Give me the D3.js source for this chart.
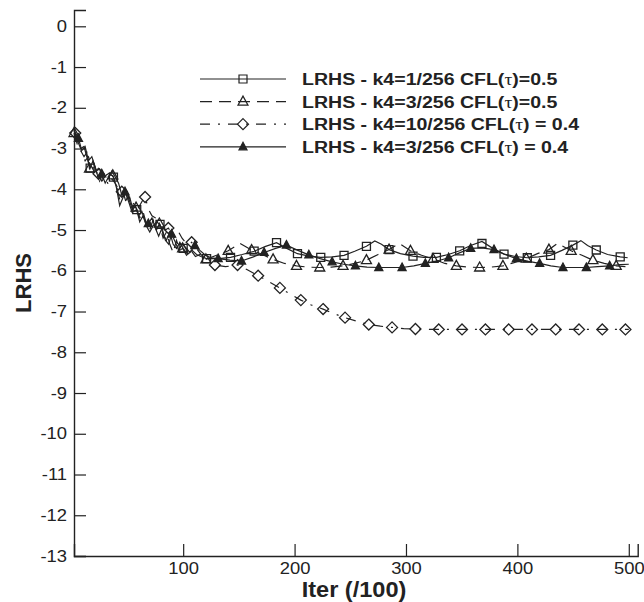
<!DOCTYPE html>
<html>
<head>
<meta charset="utf-8">
<script src="https://cdn.jsdelivr.net/npm/d3@7/dist/d3.min.js"></script>
<style>
  body { margin: 0; background: #fff; }
  svg { display: block; }
  text { font-family: "Liberation Sans", Arial, sans-serif; fill: #222; }
</style>
</head>
<body>
<div id="chart"></div>
<script>
// residual history: [iter/100, LRHS]
var sqLine = [[2,-2.55],[5,-2.8],[8,-3.0],[11,-2.95],[14,-3.25],[16.5,-3.48],[19,-3.3],[22,-3.55],[25,-3.5],[28,-3.75],[31,-3.65],[34,-3.6],[37.4,-3.7],[40,-3.95],[43,-4.4],[46,-4.2],[49,-4.05],[52,-4.3],[55,-4.55],[58.3,-4.5],[61,-4.8],[64,-4.65],[67,-4.9],[70,-5.05],[73,-4.9],[76,-4.8],[79.2,-4.86],[82,-5.1],[85,-5.25],[88,-5.05],[91,-5.35],[94,-5.45],[97,-5.3],[100,-5.45],[104,-5.6],[108,-5.5],[112,-5.6],[116,-5.65],[121,-5.7],[132,-5.7],[142.5,-5.67],[153,-5.6],[163.7,-5.52],[174,-5.4],[183.8,-5.31],[193,-5.45],[202.6,-5.58],[213,-5.64],[223.5,-5.67],[234,-5.66],[244.4,-5.62],[254,-5.52],[264.5,-5.4],[272,-5.27],[278,-5.35],[284.8,-5.48],[295,-5.58],[306.3,-5.64],[316,-5.67],[327.3,-5.67],[338,-5.6],[348.2,-5.51],[358,-5.38],[368.2,-5.28],[378,-5.45],[388,-5.59],[398,-5.65],[408.9,-5.68],[419,-5.66],[429.8,-5.62],[440,-5.5],[449.8,-5.37],[457,-5.26],[463,-5.38],[470.8,-5.49],[481,-5.6],[492.3,-5.66],[499,-5.68]];
var sqMarks = [[16.5,-3.48],[37.4,-3.7],[58.3,-4.5],[79.2,-4.86],[100,-5.45],[121,-5.7],[142.5,-5.67],[163.7,-5.52],[183.8,-5.31],[202.6,-5.58],[223.5,-5.67],[244.4,-5.62],[264.5,-5.4],[284.8,-5.48],[306.3,-5.64],[327.3,-5.67],[348.2,-5.51],[368.2,-5.33],[388,-5.59],[408.9,-5.68],[429.8,-5.62],[449.8,-5.37],[470.8,-5.49],[492.3,-5.66]];

var triLine = [[2,-2.62],[5,-2.9],[8,-3.05],[11,-3.2],[13.5,-3.1],[15.9,-3.49],[19,-3.3],[22,-3.55],[25,-3.8],[28,-3.6],[31,-3.75],[34,-3.65],[36.8,-3.66],[40,-3.9],[43,-4.25],[46,-4.05],[49,-4.35],[52,-4.2],[55,-4.5],[57.7,-4.45],[61,-4.7],[64,-4.55],[67,-4.85],[70,-5.0],[73,-4.75],[76,-5.0],[78.6,-4.84],[82,-5.2],[85,-5.05],[88,-5.35],[91,-5.55],[94,-5.25],[97,-5.5],[99.5,-5.45],[103,-5.62],[107,-5.5],[111,-5.65],[115,-5.6],[120.4,-5.72],[130,-5.62],[140.4,-5.51],[151,-5.33],[161.4,-5.49],[171,-5.6],[180.7,-5.72],[191,-5.82],[201.7,-5.88],[212,-5.91],[222.6,-5.92],[233,-5.91],[243.5,-5.88],[254,-5.82],[264.5,-5.74],[275,-5.6],[284.8,-5.48],[294,-5.33],[304,-5.51],[314,-5.62],[324.3,-5.71],[335,-5.82],[345.2,-5.88],[356,-5.91],[366.1,-5.92],[376,-5.91],[387,-5.88],[397,-5.8],[408,-5.7],[418,-5.58],[428.3,-5.48],[436,-5.33],[448.3,-5.51],[458,-5.62],[467.8,-5.74],[478,-5.82],[488.7,-5.88],[497,-5.9]];
var triMarks = [[2,-2.62],[15.9,-3.49],[36.8,-3.66],[57.7,-4.45],[78.6,-4.84],[99.5,-5.45],[120.4,-5.72],[140.4,-5.51],[161.4,-5.49],[180.7,-5.72],[201.7,-5.88],[222.6,-5.92],[243.5,-5.88],[264.5,-5.74],[284.8,-5.48],[304,-5.51],[324.3,-5.71],[345.2,-5.88],[366.1,-5.92],[387,-5.88],[408,-5.7],[428.3,-5.48],[448.3,-5.51],[467.8,-5.74],[488.7,-5.88]];

var dmLine = [[3.1,-2.62],[6,-2.9],[9,-3.1],[12,-3.3],[15,-3.2],[18,-3.45],[21,-3.5],[24,-3.62],[27,-3.8],[30,-3.7],[33,-3.9],[36,-3.75],[39,-3.85],[42,-4.0],[44.9,-4.06],[48,-4.3],[51,-4.15],[54,-4.4],[57,-4.3],[60,-4.45],[63,-4.3],[65.8,-4.19],[69,-4.5],[72,-4.65],[75,-4.7],[78,-4.9],[81,-4.8],[84,-5.0],[86.7,-4.95],[90,-5.1],[93,-5.2],[96,-5.05],[99,-5.2],[102,-5.3],[105,-5.35],[107.6,-5.3],[112,-5.45],[116,-5.6],[120,-5.7],[124,-5.8],[128.5,-5.86],[138,-5.9],[148.8,-5.86],[158,-5.98],[167.3,-6.12],[177,-6.27],[186.8,-6.42],[196,-6.57],[205.6,-6.72],[215,-6.84],[225.6,-6.94],[235,-7.05],[245.3,-7.15],[256,-7.24],[266.6,-7.32],[277,-7.36],[287.5,-7.39],[298,-7.42],[308.5,-7.43],[329.4,-7.44],[350.3,-7.44],[371.3,-7.44],[392.2,-7.44],[413.1,-7.44],[434.4,-7.44],[455.3,-7.44],[476.2,-7.44],[497,-7.44],[500,-7.44]];
var dmMarks = [[3.1,-2.62],[24,-3.62],[44.9,-4.06],[65.8,-4.19],[86.7,-4.95],[107.6,-5.3],[128.5,-5.86],[148.8,-5.86],[167.3,-6.12],[186.8,-6.42],[205.6,-6.72],[225.6,-6.94],[245.3,-7.15],[266.6,-7.32],[287.5,-7.39],[308.5,-7.43],[329.4,-7.44],[350.3,-7.44],[371.3,-7.44],[392.2,-7.44],[413.1,-7.44],[434.4,-7.44],[455.3,-7.44],[476.2,-7.44],[497,-7.44]];

var ftLine = [[2,-2.55],[6,-2.75],[9,-3.05],[12,-2.95],[15,-3.3],[18,-3.2],[21,-3.45],[24,-3.75],[26.9,-3.62],[30,-3.85],[33,-3.7],[36,-3.55],[39,-3.7],[42,-3.85],[45,-4.15],[47.8,-4.06],[51,-4.3],[54,-4.55],[57,-4.4],[60,-4.65],[63,-4.55],[66,-4.8],[68.7,-4.84],[72,-4.7],[75,-4.95],[78,-5.15],[81,-4.95],[84,-5.25],[87,-5.35],[89.6,-5.1],[93,-5.3],[96,-5.5],[99,-5.35],[103,-5.45],[106,-5.55],[110.5,-5.38],[115,-5.5],[120,-5.62],[125,-5.68],[131.4,-5.7],[142,-5.74],[152.4,-5.76],[163,-5.66],[172.7,-5.55],[183,-5.45],[192.7,-5.37],[203,-5.5],[212.8,-5.61],[223,-5.7],[233.7,-5.78],[244,-5.84],[254.6,-5.88],[265,-5.91],[275.6,-5.92],[286,-5.92],[296.5,-5.92],[307,-5.88],[317.4,-5.82],[328,-5.76],[338.3,-5.68],[348,-5.56],[358.1,-5.45],[368,-5.44],[379,-5.48],[389,-5.6],[399.1,-5.7],[410,-5.77],[420,-5.82],[430,-5.88],[440.9,-5.92],[451,-5.92],[461.9,-5.92],[472,-5.9],[482.8,-5.88],[492,-5.85],[500,-5.84]];
var ftMarks = [[6,-2.75],[26.9,-3.62],[47.8,-4.06],[68.7,-4.84],[89.6,-5.1],[110.5,-5.38],[131.4,-5.7],[152.4,-5.76],[172.7,-5.55],[192.7,-5.37],[212.8,-5.61],[233.7,-5.78],[254.6,-5.88],[275.6,-5.92],[296.5,-5.92],[317.4,-5.82],[338.3,-5.68],[358.1,-5.45],[379,-5.48],[399.1,-5.7],[420,-5.82],[440.9,-5.92],[461.9,-5.92],[482.8,-5.88]];

var legendLabels = ["k4=1/256 CFL(", "k4=3/256 CFL(", "k4=10/256 CFL(", "k4=3/256 CFL("];
var legendTails = [")=0.5", ")=0.5", ") = 0.4", ") = 0.4"];
var xMajor = [100, 200, 300, 400, 500];
var yMajor = d3.range(0, -14, -1);

var W = 644, H = 602,
    ink = "#222",
    stretch = 1.15;

var x = d3.scaleLinear().domain([2, 508]).range([74, 637.7]),
    y = d3.scaleLinear().domain([-13, 0.4]).range([556, 10]);

var svg = d3.select("#chart").append("svg")
    .attr("width", W).attr("height", H);

// marker shapes
function markPath(kind) {
  if (kind == "square") return "M-4,-4H4V4H-4Z";
  if (kind == "tri") return "M0,-5.5L5,3.5H-5Z";
  if (kind == "ftri") return "M0,-4.5L4,3H-4Z";
  return "M0,-5.5L5.5,0L0,5.5L-5.5,0Z";
}

var series = [
  { line: sqLine, marks: sqMarks, dash: null, kind: "square" },
  { line: triLine, marks: triMarks, dash: "12,7", kind: "tri" },
  { line: dmLine, marks: dmMarks, dash: "10,8,2,8", kind: "diamond" },
  { line: ftLine, marks: ftMarks, dash: null, kind: "ftri" }
];

// axes (ticks point inward like Tecplot)
var gx = svg.append("g").attr("transform", "translate(0," + y(-13) + ")");
gx.call(d3.axisBottom(x).tickValues(d3.range(20, 501, 20)).tickSize(-7).tickFormat(""));
gx.call(d3.axisBottom(x).tickValues(xMajor).tickSize(-12).tickPadding(7).tickFormat(d3.format("d")));

var gy = svg.append("g").attr("transform", "translate(" + x(2) + ",0)");
gy.call(d3.axisLeft(y).tickValues(d3.range(-13, 0.41, 0.2)).tickSize(-7).tickFormat(""));
gy.call(d3.axisLeft(y).tickValues(yMajor).tickSize(-12).tickPadding(7).tickFormat(function (d) { return String(d); }));

svg.selectAll(".domain").attr("stroke", ink).attr("stroke-width", 1.4);
svg.selectAll(".tick line").attr("stroke", ink).attr("stroke-width", 1.2);
svg.selectAll(".tick text").attr("font-size", 16).attr("fill", ink)
    .attr("font-family", "Liberation Sans, Arial, sans-serif");
gy.selectAll(".tick text").attr("x", -7 / stretch).attr("transform", "scale(" + stretch + ",1)");
gx.selectAll(".tick text").attr("transform", "scale(" + stretch + ",1)");

// axis titles
svg.append("text")
    .attr("transform", "translate(354,597) scale(1.07,1)")
    .attr("text-anchor", "middle")
    .attr("font-size", 22).attr("font-weight", "bold")
    .text("Iter (/100)");

svg.append("text")
    .attr("transform", "translate(31," + y(-6.3) + ") rotate(-90)")
    .attr("text-anchor", "middle")
    .attr("font-size", 22).attr("font-weight", "bold")
    .text("LRHS");

// curves
var line = d3.line().x(function (d) { return x(d[0]); }).y(function (d) { return y(d[1]); });

series.forEach(function (s) {
  svg.append("path")
      .datum(s.line)
      .attr("d", line)
      .attr("fill", "none")
      .attr("stroke", ink)
      .attr("stroke-width", 1.2)
      .attr("stroke-dasharray", s.dash);

  svg.append("g").selectAll("path")
      .data(s.marks)
      .enter().append("path")
      .attr("transform", function (d) { return "translate(" + x(d[0]) + "," + y(d[1]) + ")"; })
      .attr("d", markPath(s.kind))
      .attr("fill", s.kind == "ftri" ? ink : "none")
      .attr("stroke", ink)
      .attr("stroke-width", 1.3);
});

// legend
var leg = svg.append("g");
series.forEach(function (s, i) {
  var ly = 79 + i * 22.6;
  leg.append("line")
      .attr("x1", 200).attr("x2", 286).attr("y1", ly).attr("y2", ly)
      .attr("stroke", ink).attr("stroke-width", 1.2)
      .attr("stroke-dasharray", s.dash);
  leg.append("path")
      .attr("transform", "translate(243," + ly + ")")
      .attr("d", markPath(s.kind))
      .attr("fill", s.kind == "ftri" ? ink : "none")
      .attr("stroke", ink).attr("stroke-width", 1.2);
  var t = leg.append("text")
      .attr("transform", "translate(302," + (ly + 6) + ") scale(" + stretch + ",1)")
      .attr("font-size", 17).attr("font-weight", "bold");
  t.append("tspan").text("LRHS - " + legendLabels[i]);
  t.append("tspan").attr("font-weight", "normal").attr("font-family", "Liberation Serif, serif").text("\u03c4");
  t.append("tspan").text(legendTails[i]);
});
</script>
</body>
</html>
